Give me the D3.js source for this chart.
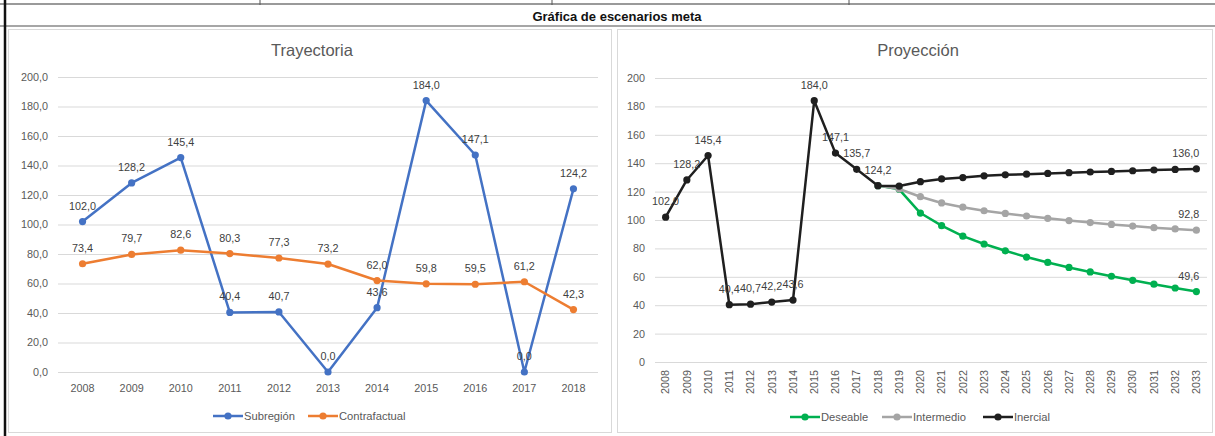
<!DOCTYPE html>
<html>
<head>
<meta charset="utf-8">
<script src="https://cdn.jsdelivr.net/npm/d3@7"></script>
<style>
  body { margin: 0; background: #fff; }
  svg { display: block; }
  text { font-family: "Liberation Sans", Arial, sans-serif; }
</style>
</head>
<body>
<svg id="chart" width="1215" height="436"></svg>
<script>
// --- data ---
const trayYears = ["2008", "2009", "2010", "2011", "2012", "2013", "2014", "2015", "2016", "2017", "2018"];
const subregion = [102.0, 128.2, 145.4, 40.4, 40.7, 0.0, 43.6, 184.0, 147.1, 0.0, 124.2];
const contrafactual = [73.4, 79.7, 82.6, 80.3, 77.3, 73.2, 62.0, 59.8, 59.5, 61.2, 42.3];

const proyYears = ["2008", "2009", "2010", "2011", "2012", "2013", "2014", "2015", "2016", "2017", "2018",
  "2019", "2020", "2021", "2022", "2023", "2024", "2025", "2026", "2027", "2028", "2029", "2030", "2031", "2032", "2033"];
const deseable = [null, null, null, null, null, null, null, null, null, null, 124.2,
  121.6, 104.9, 96.0, 88.6, 83.1, 78.3, 73.9, 70.1, 66.6, 63.4, 60.4, 57.5, 54.8, 52.1, 49.6];
const intermedio = [null, null, null, null, null, null, null, null, null, null, 124.2,
  121.8, 116.4, 112.0, 109.0, 106.5, 104.6, 102.8, 101.2, 99.6, 98.2, 96.9, 95.7, 94.6, 93.7, 92.8];
const inercial = [102.0, 128.2, 145.4, 40.4, 40.7, 42.2, 43.6, 184.0, 147.1, 135.7, 124.2,
  123.9, 127.0, 128.9, 129.9, 131.1, 131.8, 132.3, 132.8, 133.3, 133.8, 134.2, 134.7, 135.2, 135.6, 136.0];

const yTicks = [0, 20, 40, 60, 80, 100, 120, 140, 160, 180, 200];

const fmtComma = v => d3.format(".1f")(v).replace(".", ",");

const svg = d3.select("#chart");

// --- sheet frame ---
svg.append("line").attr("x1", 0).attr("x2", 1215).attr("y1", 4).attr("y2", 4)
  .attr("stroke", "#9a9a9a").attr("stroke-width", 2);
[260, 552, 849].forEach(x => {
  svg.append("line").attr("x1", x).attr("x2", x).attr("y1", 0).attr("y2", 5)
    .attr("stroke", "#555").attr("stroke-width", 1);
});
svg.append("text").attr("x", 617).attr("y", 21).attr("text-anchor", "middle")
  .attr("font-size", 13).attr("font-weight", "bold").attr("fill", "#111")
  .text("Gráfica de escenarios meta");
svg.append("line").attr("x1", 0).attr("x2", 1215).attr("y1", 26).attr("y2", 26)
  .attr("stroke", "#a6a6a6").attr("stroke-width", 2);
svg.append("rect").attr("x", 8.5).attr("y", 29.5).attr("width", 603).attr("height", 403)
  .attr("fill", "none").attr("stroke", "#d9d9d9");
svg.append("rect").attr("x", 617.5).attr("y", 29.5).attr("width", 595).attr("height", 403)
  .attr("fill", "none").attr("stroke", "#d9d9d9");
svg.append("line").attr("x1", 5).attr("x2", 5).attr("y1", 0).attr("y2", 436)
  .attr("stroke", "#111").attr("stroke-width", 2.5);

function drawChart(opt) {
  const g = svg.append("g");
  const x = d3.scaleBand().domain(opt.cats).range([opt.x0, opt.x1]);
  const cx = i => x(opt.cats[i]) + x.bandwidth() / 2;
  const y = d3.scaleLinear().domain([0, 200]).range([opt.yBottom, opt.yTop]);

  g.append("text").attr("x", opt.titleX).attr("y", 56).attr("text-anchor", "middle")
    .attr("font-size", 16.5).attr("fill", "#595959").text(opt.title);

  const ya = g.append("g").attr("transform", `translate(${opt.x0},0)`)
    .call(d3.axisLeft(y).tickValues(yTicks).tickSize(-(opt.x1 - opt.x0)).tickPadding(10).tickFormat(opt.yFmt));
  ya.select(".domain").remove();
  ya.selectAll("line").attr("stroke", "#d9d9d9");
  ya.selectAll("text").attr("fill", "#595959").attr("font-size", 10.8).attr("font-family", null);

  const xa = g.append("g").attr("transform", `translate(0,${opt.yBottom})`)
    .call(d3.axisBottom(x).tickSize(0).tickPadding(12));
  xa.select(".domain").remove();
  xa.selectAll("text").attr("fill", "#595959").attr("font-size", 10.8).attr("font-family", null);
  if (opt.rotate) {
    xa.selectAll("text").attr("transform", "rotate(-90)").attr("text-anchor", "end")
      .attr("x", -8).attr("y", 0).attr("dy", "0.35em");
  }

  const line = d3.line().defined(d => d != null).x((d, i) => cx(i)).y(d => y(d));
  opt.series.forEach(s => {
    g.append("path").datum(s.values).attr("d", line).attr("fill", "none")
      .attr("stroke", s.color).attr("stroke-width", 2.5).attr("stroke-linejoin", "round");
    g.selectAll(null).data(s.values.map((v, i) => ({ v, i })).filter(d => d.v != null))
      .join("circle").attr("cx", d => cx(d.i)).attr("cy", d => y(d.v)).attr("r", 3.6)
      .attr("fill", s.color);
  });
  opt.series.forEach(s => {
    g.selectAll(null).data(s.values.map((v, i) => ({ v, i })).filter(d => d.v != null && s.labelled(d.i)))
      .join("text")
      .attr("x", d => d.i === opt.cats.length - 1 && opt.rotate ? cx(d.i) + 3 : cx(d.i))
      .attr("y", d => y(d.v) - 12)
      .attr("text-anchor", d => d.i === opt.cats.length - 1 && opt.rotate ? "end" : "middle")
      .attr("font-size", 10.8).attr("fill", "#404040")
      .text(d => fmtComma(d.v));
  });

  // legend
  opt.legend.forEach(l => {
    const s = opt.series.find(q => q.name === l.name);
    g.append("line").attr("x1", l.x).attr("x2", l.x + 30).attr("y1", opt.legendY).attr("y2", opt.legendY)
      .attr("stroke", s.color).attr("stroke-width", 2.5);
    g.append("circle").attr("cx", l.x + 15).attr("cy", opt.legendY).attr("r", 3.6).attr("fill", s.color);
    g.append("text").attr("x", l.x + 31).attr("y", opt.legendY + 4).attr("font-size", 11.2)
      .attr("fill", "#595959").text(s.name);
  });
}

drawChart({
  title: "Trayectoria", titleX: 312,
  cats: trayYears, x0: 58, x1: 598, yTop: 77, yBottom: 372,
  yFmt: fmtComma, rotate: false, legendY: 416,
  series: [
    { name: "Subregión", values: subregion, color: "#4472C4", labelled: () => true },
    { name: "Contrafactual", values: contrafactual, color: "#ED7D31", labelled: () => true }
  ],
  legend: [{ name: "Subregión", x: 213 }, { name: "Contrafactual", x: 308 }]
});

drawChart({
  title: "Proyección", titleX: 918,
  cats: proyYears, x0: 655, x1: 1207, yTop: 78, yBottom: 362,
  yFmt: d3.format("d"), rotate: true, legendY: 417,
  series: [
    { name: "Deseable", values: deseable, color: "#00B050", labelled: i => i === proyYears.length - 1 },
    { name: "Intermedio", values: intermedio, color: "#A5A5A5", labelled: i => i === proyYears.length - 1 },
    { name: "Inercial", values: inercial, color: "#1F1F1F", labelled: i => i <= 10 || i === proyYears.length - 1 }
  ],
  legend: [{ name: "Deseable", x: 790 }, { name: "Intermedio", x: 882 }, { name: "Inercial", x: 983 }]
});
</script>
</body>
</html>
